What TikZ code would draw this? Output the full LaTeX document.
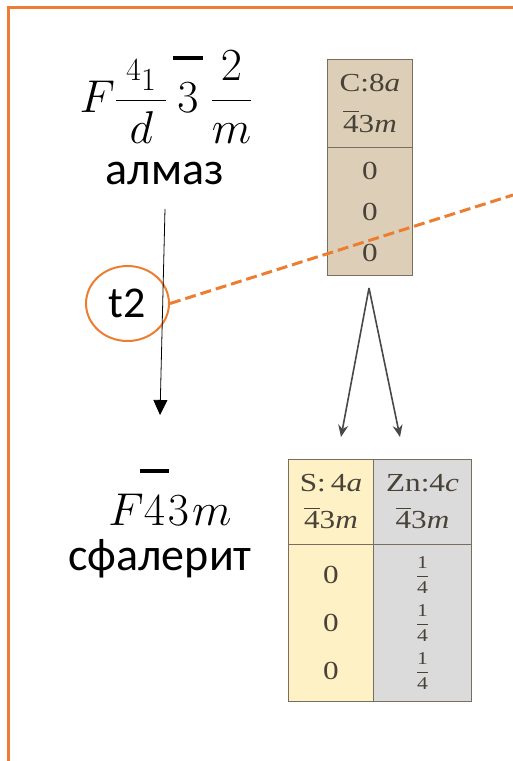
\RequirePackage{fix-cm}
\documentclass[tikz,border=0pt]{standalone}
\usepackage{xcolor}
\usepackage{graphicx}
\usepackage{amsmath}
\usepackage{fontspec}
\setmainfont{Carlito}
\newfontfamily\tabfont{Liberation Serif}
\usepackage{tikz}
\usetikzlibrary{arrows.meta,shapes.geometric}
\definecolor{FrameOrange}{RGB}{237,125,49}
\definecolor{CarbonTan}{RGB}{221,207,183}
\definecolor{SulfurYellow}{RGB}{253,241,197}
\definecolor{ZincGray}{RGB}{219,219,219}
\definecolor{TableLine}{RGB}{120,110,96}
\definecolor{TableText}{RGB}{72,66,56}
\definecolor{ForkGray}{RGB}{72,72,72}
\newcommand{\tabwide}[1]{\scalebox{1.2}[1]{#1}}
\newcommand{\hibar}[1]{\mathord{\setbox0=\hbox{$#1$}%
  \hbox{\rlap{\kern-4pt\rule[52pt]{\dimexpr\wd0+8pt\relax}{4pt}}\box0}}}
\newcommand{\tabbar}{\ensuremath{\overline{\hbox{4}}}}
\newcommand{\quarter}{{\fontsize{18}{18}\selectfont
  $\displaystyle\frac{\hbox{\tabwide{1}}}{\hbox{\tabwide{4}}}$}}
\tikzset{
  tcell/.style={draw=TableLine,line width=1pt,inner sep=0pt,anchor=north west,
                align=center,text=TableText,font=\tabfont\fontsize{26}{41}\selectfont},
  bigtext/.style={font=\fontsize{46}{50}\selectfont,inner sep=0pt,anchor=base},
}

\begin{document}
\begin{tikzpicture}[x=1pt,y=-1pt]
  \useasboundingbox (0,0) rectangle (513,761);
  % frame
  \draw[FrameOrange,line width=2.6pt] (8.5,761) -- (8.5,7.5) -- (513,7.5);
  % diamond group
  \node[bigtext] (almazsg) at (166,112)
    {$\displaystyle F\frac{\kern10pt\scriptstyle 4_{\scriptstyle 1}\kern10pt}{d}\kern10pt
      \hibar{3}\kern12pt\frac{\kern2pt 2\kern2pt}{m}$};
  \node[bigtext] (almaz) at (165,184) {алмаз};
  % sphalerite group
  \node[bigtext] (sfalsg) at (170,525) {$F\hibar{4}\kern3pt3\kern3pt m$};
  \node[bigtext] (sfal) at (160,570) {сфалерит};
  \coordinate (almaztail) at (165,209);
  \coordinate (almazhead) at (160,415);
  % C table
  \node[tcell,fill=CarbonTan,minimum width=85pt,minimum height=88pt] (chead) at (327,59)
    {\tabwide{C:8\textit{a}}\\ \tabwide{\tabbar3\textit{m}}};
  \node[tcell,fill=CarbonTan,minimum width=85pt,minimum height=128pt] (cbody) at (327,147)
    {\tabwide{0}\\ \tabwide{0}\\ \tabwide{0}};
  % fork
  \coordinate (fork) at (369,288);
  \coordinate (tos) at (341,437);
  \coordinate (tozn) at (400,437);
  \draw[ForkGray,line width=1.6pt,-{Stealth[width=10pt,length=12pt]}] (fork) -- (tos);
  \draw[ForkGray,line width=1.6pt,-{Stealth[width=10pt,length=12pt]}] (fork) -- (tozn);
  % S / Zn table
  \node[tcell,fill=SulfurYellow,minimum width=85pt,minimum height=85pt,
        font=\tabfont\fontsize{26}{37}\selectfont] (shead) at (288,459)
    {\tabwide{S:\,4\textit{a}}\\ \tabwide{\tabbar3\textit{m}}};
  \node[tcell,fill=ZincGray,minimum width=98pt,minimum height=85pt,
        font=\tabfont\fontsize{26}{37}\selectfont] (znhead) at (373,459)
    {\tabwide{Zn:4\textit{c}}\\ \tabwide{\tabbar3\textit{m}}};
  \node[tcell,fill=SulfurYellow,minimum width=85pt,minimum height=157pt,
        font=\tabfont\fontsize{26}{48}\selectfont] (sbody) at (288,544)
    {\tabwide{0}\\ \tabwide{0}\\ \tabwide{0}};
  \node[tcell,fill=ZincGray,minimum width=98pt,minimum height=157pt,
        font=\tabfont\fontsize{26}{48}\selectfont] (znbody) at (373,544)
    {\quarter\\ \quarter\\ \quarter};
  % t2 mark
  \node[ellipse,draw=FrameOrange,line width=2pt,minimum width=83pt,minimum height=75pt,
        inner sep=0pt,font=\fontsize{44}{48}\selectfont] (t2) at (127.5,303.5) {t2};
  \coordinate (t2edge) at (513,195);
  \draw[FrameOrange,line width=3pt,dash pattern=on 11pt off 5pt] (t2.east) -- (t2edge);
  \draw[line width=0.8pt,-{Triangle[width=14pt,length=15pt]}] (almaztail) -- (almazhead);
\end{tikzpicture}
\end{document}
